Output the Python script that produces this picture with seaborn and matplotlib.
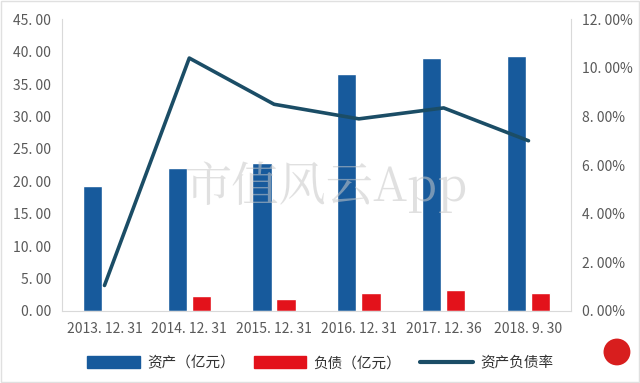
import numpy as np
import pandas as pd
import matplotlib.pyplot as plt
import seaborn as sns
from matplotlib.patches import Patch, Ellipse
from matplotlib.lines import Line2D
from matplotlib.ticker import FuncFormatter

dates = ["2013. 12. 31", "2014. 12. 31", "2015. 12. 31", "2016. 12. 31", "2017. 12. 36", "2018. 9. 30"]
assets = [19.3, 22.0, 22.8, 36.5, 39.0, 39.3]
liabilities = [0.0, 2.25, 1.8, 2.8, 3.2, 2.8]
ratio = [1.05, 10.4, 8.5, 7.9, 8.35, 7.0]

asset_name = "资产（亿元）"
liab_name = "负债（亿元）"
ratio_name = "资产负债率"

sns.set_style("white")
plt.rcParams["font.family"] = ["Noto Sans CJK SC", "DejaVu Sans"]

blue = "#175a9c"
red = "#e3121b"
dark = "#1b4d66"
grey_txt = "#595959"
axis_grey = "#d9d9d9"

df = pd.DataFrame({"date": dates * 2,
                   "value": assets + liabilities,
                   "kind": [asset_name] * 6 + [liab_name] * 6})

fig = plt.figure(figsize=(6.4, 3.83), dpi=100)
ax = fig.add_axes([0.097, 0.188, 0.795, 0.762])

sns.barplot(data=df, x="date", y="value", hue="kind", order=dates,
            hue_order=[asset_name, liab_name], palette=[blue, red],
            width=0.57, gap=0.2, ax=ax, legend=False, saturation=1)

ax.set_ylim(0, 45)
ax.set_yticks(np.arange(0, 46, 5))
ax.yaxis.set_major_formatter(FuncFormatter(lambda v, p: f"{v:.2f}".replace(".", ". ")))
ax.set_xlim(-0.5, 5.5)
ax.set_xlabel("")
ax.set_ylabel("")

ax2 = ax.twinx()
sns.lineplot(x=np.arange(len(dates)), y=ratio, color=dark, linewidth=2.6, ax=ax2)
ax2.set_ylim(0, 12)
ax2.set_yticks(np.arange(0, 12.1, 2))
ax2.yaxis.set_major_formatter(FuncFormatter(lambda v, p: f"{v:.2f}%".replace(".", ". ")))
ax2.set_xlim(-0.5, 5.5)

for a in (ax, ax2):
    for s in a.spines.values():
        s.set_visible(False)
    a.tick_params(length=0, colors=grey_txt, labelsize=10)
ax.spines["left"].set_visible(True)
ax.spines["left"].set_color(axis_grey)
ax.spines["bottom"].set_visible(True)
ax.spines["bottom"].set_color(axis_grey)
ax2.spines["right"].set_visible(True)
ax2.spines["right"].set_color(axis_grey)
ax.tick_params(axis="y", pad=8)
ax.tick_params(axis="x", pad=8, labelsize=10)
ax2.tick_params(axis="y", pad=8)

# watermark
fig.text(0.51, 0.51, "市值风云App", fontsize=34, color="#c8c8c8", alpha=0.55,
         ha="center", va="center", zorder=0,
         family=["Noto Serif CJK SC", "Noto Sans CJK SC", "DejaVu Sans"])

handles = [Patch(facecolor=blue, edgecolor=blue),
           Patch(facecolor=red, edgecolor=red),
           Line2D([0], [0], color=dark, linewidth=3)]
fig.legend(handles, [asset_name, liab_name, ratio_name], loc="center",
           bbox_to_anchor=(0.5, 0.052), ncol=3, frameon=False, fontsize=10.5,
           handlelength=3.6, handleheight=0.9, columnspacing=1.3,
           handletextpad=0.5, labelcolor="#333333")

# small red seal at bottom right
fig.patches.append(Ellipse((0.964, 0.081), 0.042, 0.07, transform=fig.transFigure,
                           facecolor="#d81e1e", edgecolor="none"))

fig.patches.append(plt.Rectangle((0.002, 0.002), 0.996, 0.995, transform=fig.transFigure,
                                 fill=False, edgecolor="#e0e0e0", linewidth=1))

fig.savefig("out.png", dpi=100)
